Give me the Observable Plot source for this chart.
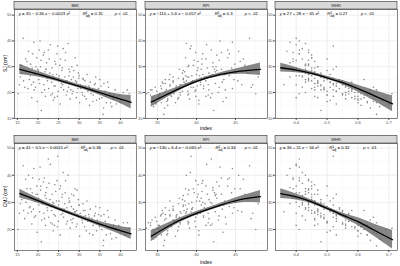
<!DOCTYPE html>
<html><head><meta charset="utf-8">
<script src="https://cdn.jsdelivr.net/npm/d3@7"></script>
<script src="https://cdn.jsdelivr.net/npm/@observablehq/plot@0.6"></script>
<style>
body{margin:0;background:#fff}
#chart{position:relative;width:400px;height:266px;overflow:hidden;background:#fff}
#chart svg{position:absolute}
</style></head>
<body><div id="chart"></div>
<script>
// ---- subjects (same people in every panel) ----
const bmi = [15.2,15.7,15.9,16.4,16.5,17.0,17.1,17.6,17.7,18.1,
 18.2,18.5,18.6,18.9,19.0,19.3,19.4,19.7,19.8,20.1,
 20.2,20.5,20.6,20.9,21.0,21.3,21.4,21.7,21.8,22.1,
 22.2,22.5,22.6,22.9,23.0,23.3,23.4,23.7,23.8,24.1,
 24.2,24.5,24.6,24.9,25.0,25.3,25.4,25.7,25.8,26.1,
 26.2,26.5,26.6,26.9,27.0,27.3,27.4,27.7,27.8,28.1,
 28.2,28.5,28.6,28.9,29.0,29.3,29.4,29.7,29.8,30.1,
 30.3,30.7,30.9,31.3,31.5,31.9,32.1,32.5,32.7,33.1,
 33.4,33.9,34.2,34.7,35.0,35.5,35.8,36.3,36.6,37.1,
 37.4,37.9,38.2,38.7,39.0,39.6,40.0,40.7,41.2,42.1,
 16.8,19.5,21.5,23.5,25.5,27.5,29.5,31.0,34.0,36.0,
 18.4,20.3,22.0,24.0,26.0,28.0,30.0,32.4,24.8,20.8,
 15.5,16.1,17.3,17.9,18.7,19.1,19.9,20.4,20.7,21.1,
 21.6,21.9,22.3,22.7,23.1,23.6,23.9,24.3,24.7,25.1,
 25.6,25.9,26.3,26.7,27.1,27.5,27.9,28.3,28.7,29.1,
 29.5,29.9,30.4,30.8,31.4,31.7,32.3,32.9,33.3,33.7,
 34.4,34.9,35.3,35.9,36.4,36.9,37.6,38.4,39.3,41.7];
const rpi = [47.6,47.9,46.2,46.8,45.3,46.0,45.0,44.6,45.4,44.2,
 44.9,43.8,44.5,43.3,44.6,43.6,42.9,44.0,43.4,42.6,
 43.5,43.0,42.1,42.8,41.8,42.6,41.5,42.4,41.2,42.1,
 41.0,41.9,40.9,41.6,41.3,40.5,41.4,40.3,41.1,40.2,
 40.9,40.0,40.8,39.8,40.6,39.6,40.3,39.4,40.1,39.2,
 39.9,39.0,39.7,38.9,39.5,38.7,39.3,38.5,39.1,38.3,
 38.9,38.2,38.8,37.9,38.6,37.7,38.4,37.5,38.2,37.3,
 38.0,37.0,37.7,36.8,37.4,36.6,37.2,36.3,37.0,36.1,
 36.7,35.7,36.3,35.5,36.0,35.2,35.8,34.9,35.5,34.7,
 35.3,34.5,35.0,34.3,34.8,34.1,34.6,33.8,34.3,33.6,
 47.0,42.5,43.2,42.0,41.2,37.8,39.0,36.5,37.0,36.0,
 45.8,44.0,40.6,41.8,40.5,37.5,38.6,37.8,39.3,42.2,
 47.2,46.6,45.6,44.8,44.2,43.7,43.2,42.4,42.9,42.0,
 41.6,42.3,41.2,40.7,41.5,40.8,40.1,40.7,39.9,40.4,
 39.6,40.2,39.4,39.9,38.9,39.4,38.6,39.0,38.3,38.7,
 37.9,38.3,37.4,37.9,37.0,37.6,36.6,37.1,36.2,36.6,
 35.9,36.3,35.4,35.9,35.1,35.6,34.8,35.2,34.4,34.1];
const whr = [0.41,0.38,0.43,0.40,0.44,0.39,0.42,0.45,0.37,0.41,
 0.44,0.47,0.40,0.43,0.38,0.46,0.42,0.45,0.50,0.39,
 0.44,0.41,0.47,0.43,0.40,0.45,0.48,0.42,0.46,0.38,
 0.44,0.41,0.49,0.43,0.40,0.47,0.45,0.51,0.42,0.46,
 0.48,0.44,0.41,0.50,0.46,0.43,0.53,0.47,0.45,0.42,
 0.52,0.48,0.44,0.55,0.49,0.43,0.51,0.46,0.56,0.50,
 0.47,0.53,0.49,0.55,0.45,0.58,0.51,0.54,0.48,0.60,
 0.52,0.56,0.49,0.59,0.53,0.51,0.57,0.61,0.54,0.58,
 0.56,0.52,0.60,0.57,0.54,0.62,0.66,0.58,0.63,0.56,
 0.61,0.67,0.59,0.64,0.70,0.62,0.65,0.60,0.68,0.71,
 0.46,0.53,0.39,0.55,0.50,0.40,0.44,0.62,0.48,0.53,
 0.36,0.44,0.52,0.40,0.57,0.46,0.42,0.65,0.52,0.48,
 0.40,0.45,0.39,0.43,0.41,0.48,0.43,0.46,0.40,0.44,
 0.49,0.41,0.45,0.42,0.50,0.44,0.47,0.43,0.52,0.45,
 0.49,0.46,0.51,0.44,0.53,0.48,0.46,0.55,0.50,0.47,
 0.56,0.52,0.58,0.50,0.55,0.60,0.53,0.57,0.63,0.55,
 0.59,0.61,0.56,0.64,0.60,0.58,0.66,0.63,0.69,0.66];
const sj = [19.5,26.0,30.5,41.0,24.5,33.0,28.0,21.5,36.0,26.5,
 31.0,18.0,29.5,24.0,39.5,27.0,22.0,33.5,16.5,28.5,
 25.0,40.0,30.0,20.0,26.5,34.5,23.0,28.0,18.5,31.5,
 25.5,36.5,21.5,27.5,38.5,24.0,29.5,17.0,26.0,32.0,
 22.5,27.0,35.0,20.5,25.5,30.5,15.5,23.5,28.5,37.0,
 21.0,26.0,32.5,19.0,24.5,39.0,22.0,28.0,17.5,25.0,
 30.0,20.5,26.0,23.0,33.5,18.0,24.0,21.5,27.5,16.0,
 23.0,20.0,25.5,18.5,22.5,27.0,20.5,15.0,24.0,21.0,
 19.0,23.5,17.0,21.5,25.0,18.0,11.5,20.5,16.0,22.0,
 19.5,14.5,17.5,21.0,15.5,19.0,16.5,20.0,17.0,19.5,
 22.0,30.0,35.5,19.5,33.0,29.0,30.5,25.0,26.0,23.5,
 23.0,36.5,29.0,18.0,23.0,21.0,26.5,22.0,38.0,13.0,
 23.0,27.5,32.0,25.0,35.0,21.0,29.0,23.5,32.5,27.0,
 21.0,29.0,24.5,33.0,19.0,27.0,22.5,31.0,18.5,26.5,
 22.0,29.5,24.0,35.5,20.5,26.5,23.5,19.5,28.5,24.5,
 20.0,25.5,21.5,19.0,24.5,17.5,22.5,19.5,16.5,23.0,
 20.0,17.5,22.5,14.0,18.5,24.0,16.0,19.0,18.0,21.0];
const cmj = [20.0,29.5,33.0,43.5,27.0,38.5,30.0,26.0,40.0,28.5,
 35.0,22.0,33.5,27.5,42.5,30.5,25.0,36.0,19.0,31.5,
 29.0,43.0,34.5,23.5,30.0,37.5,26.0,32.5,21.5,35.5,
 28.0,46.0,24.5,31.0,44.0,27.0,33.0,19.5,29.5,36.5,
 25.0,30.5,38.0,23.0,29.0,35.0,18.0,27.5,32.0,41.0,
 24.5,29.5,33.5,22.0,28.0,40.0,26.5,30.5,20.5,28.5,
 33.0,24.0,27.5,26.5,35.0,21.0,27.0,25.5,31.0,17.5,
 26.0,23.5,29.5,21.0,25.0,30.5,23.0,18.5,27.5,24.0,
 21.5,26.0,19.5,25.5,28.0,20.0,14.0,23.0,18.0,24.5,
 21.0,16.5,20.5,23.5,17.0,21.5,19.0,22.5,18.0,20.5,
 24.0,33.0,39.0,22.0,36.0,31.5,34.5,27.0,28.5,25.5,
 26.5,38.5,31.5,21.5,26.0,23.5,29.0,24.5,47.0,15.5,
 26.0,31.0,35.0,28.0,39.0,24.5,33.0,26.5,36.0,29.5,
 24.0,33.5,27.0,37.0,22.5,30.0,25.5,34.0,21.0,30.5,
 25.5,33.0,27.5,38.0,23.0,30.0,26.0,22.5,32.5,26.5,
 22.0,29.0,24.5,22.5,27.0,19.5,25.5,23.0,18.0,25.0,
 23.5,21.0,25.0,16.0,21.5,27.0,18.5,21.5,20.0,22.5];

// ---- fitted quadratic curves and 95% bands ----
const bmiGrid = [15.6,20,25,30,35,40,42.6];
const sjBmiFit = [29.0,27.1,24.8,22.4,19.9,17.4,16.2];
const sjBmiHalf = [2.0,1.1,0.7,0.7,1.0,1.8,2.6];
const cmjBmiFit = [33.2,30.6,27.6,24.7,22.0,19.6,18.4];
const cmjBmiHalf = [1.6,0.9,0.6,0.6,0.9,1.5,2.1];

const rpiGrid = [34.2,37.1,40.1,43.1,45.6,48.2];
const sjRpiFit = [16.3,20.5,24.4,27.0,28.3,29.0];
const sjRpiHalf = [2.0,1.0,0.6,0.7,1.2,2.4];
const cmjRpiFit = [17.5,22.3,26.0,29.0,31.0,32.1];
const cmjRpiHalf = [2.0,1.0,0.7,0.7,1.2,2.3];

const whrGrid = [0.35,0.4,0.45,0.5,0.55,0.6,0.65,0.712];
const sjWhrFit = [29.6,28.7,27.4,25.7,23.8,21.5,18.9,15.6];
const sjWhrHalf = [1.7,1.0,0.6,0.6,0.8,1.3,2.0,3.1];
const cmjWhrFit = [33.2,32.0,30.2,27.8,25.3,22.9,19.9,16.2];
const cmjWhrHalf = [1.8,1.1,0.7,0.6,0.8,1.4,2.2,3.4];

// ---- labels ----
const indexNames = ["BMI","RPI","WHR"];
const eqSJ = ["y = 35 − 0.36 x − 0.0023 x²","y = −110 + 5.6 x − 0.057 x²","y = 27 + 28 x − 65 x²"];
const eqCMJ = ["y = 41 − 0.5 x − 0.0015 x²","y = −130 + 6.4 x − 0.065 x²","y = 36 + 11 x − 56 x²"];
const r2SJ = ["0.31","0.3","0.27"];
const r2CMJ = ["0.36","0.34","0.32"];
const pText = "< .01";
const bmiTicks = [15,20,25,30,35,40];
const rpiTicks = [35,40,45];
const whrTicks = [0.4,0.5,0.6,0.7];
const sjTicks = [10,20,30,40,50];
const cmjTicks = [20,30,40,50];

const FONT = '"Liberation Sans", Arial, Helvetica, sans-serif';
const chart = document.getElementById("chart");
const idx = d3.range(bmi.length);
const mids = t => d3.range(t.length + 1).map(i => i === 0 ? t[0] - (t[1]-t[0])/2 : i === t.length ? t[t.length-1] + (t[1]-t[0])/2 : (t[i-1]+t[i])/2);

const columns = [
  {x: bmi, domain:[14.3,43.9], ticks:bmiTicks, fmt:d3.format("d"), grid:bmiGrid, left:2},
  {x: rpi, domain:[33.46,49.1], ticks:rpiTicks, fmt:d3.format("d"), grid:rpiGrid, left:133},
  {x: whr, domain:[0.333,0.728], ticks:whrTicks, fmt:d3.format(".1f"), grid:whrGrid, left:263}
];
const rows = [
  {y: sj, domain:[9.9,52.2], ticks:sjTicks, top:1, panelH:109,
   fits:[sjBmiFit,sjRpiFit,sjWhrFit], halves:[sjBmiHalf,sjRpiHalf,sjWhrHalf], eqs:eqSJ, r2:r2SJ,
   rOff:[68.7,69.7,52.3], pOff:[100.7,99.7,86]},
  {y: cmj, domain:[12.25,51.7], ticks:cmjTicks, top:135, panelH:107,
   fits:[cmjBmiFit,cmjRpiFit,cmjWhrFit], halves:[cmjBmiHalf,cmjRpiHalf,cmjWhrHalf], eqs:eqCMJ, r2:r2CMJ,
   rOff:[66.7,70.4,54.3], pOff:[96.7,99.7,88.3]}
];

const ML = 12, MT = 8, MB = 10, PW = 122;

rows.forEach((row, ri) => {
  columns.forEach((col, ci) => {
    const fit = row.fits[ci], half = row.halves[ci], g = col.grid;
    const gi = d3.range(g.length);
    const inRange = (v, d) => v > d[0] && v < d[1];
    const minorX = mids(col.ticks).filter(v => inRange(v, col.domain));
    const minorY = mids(row.ticks).filter(v => inRange(v, row.domain));
    const svg = Plot.plot({
      width: ML + PW, height: MT + row.panelH + MB,
      marginLeft: ML, marginRight: 0, marginTop: MT, marginBottom: MB,
      style: {fontFamily: FONT, fontSize: "4px", color: "#4d4d4d", background: "transparent", overflow: "visible"},
      x: {domain: col.domain, ticks: col.ticks, tickFormat: col.fmt, tickSize: 2, tickPadding: 1, label: null},
      y: {domain: row.domain, ticks: row.ticks, tickSize: 2, tickPadding: 1, label: null},
      marks: [
        Plot.ruleX(minorX, {stroke: "#f0f0f0", strokeWidth: 0.4}),
        Plot.ruleY(minorY, {stroke: "#f0f0f0", strokeWidth: 0.4}),
        Plot.ruleX(col.ticks, {stroke: "#e6e6e6", strokeWidth: 0.7}),
        Plot.ruleY(row.ticks.filter(v => inRange(v, row.domain)), {stroke: "#e6e6e6", strokeWidth: 0.7}),
        Plot.dot(idx, {x: i => col.x[i], y: i => row.y[i], r: 0.8, fill: "#8a8a8a"}),
        Plot.areaY(gi, {x: i => g[i], y1: i => fit[i] - half[i], y2: i => fit[i] + half[i], fill: "#5e5e5e", fillOpacity: 0.75, curve: "natural"}),
        Plot.lineY(gi, {x: i => g[i], y: i => fit[i], stroke: "#000", strokeWidth: 1.3, curve: "natural"}),
        Plot.frame({stroke: "#333", strokeWidth: 0.6})
      ]
    });
    svg.style.left = col.left + "px";
    svg.style.top = row.top + "px";
    const s = d3.select(svg);
    // strip
    s.append("rect").attr("x", ML).attr("y", 0.3).attr("width", PW).attr("height", MT - 0.3)
      .attr("fill", "#d9d9d9").attr("stroke", "#333").attr("stroke-width", 0.6);
    s.append("text").attr("x", ML + PW / 2).attr("y", MT / 2 + 0.3).attr("dy", "0.35em")
      .attr("text-anchor", "middle").attr("font-size", 4).attr("fill", "#1a1a1a")
      .attr("font-family", FONT).text(indexNames[ci]);
    // equation label
    const t = s.append("text").attr("x", ML + 4.7).attr("y", MT + 6.3)
      .attr("text-anchor", "start")
      .attr("font-size", 4.3).attr("fill", "#000").attr("font-family", FONT);
    row.eqs[ci].split(/(x|y)/).forEach(part => {
      if (!part) return;
      const sp = t.append("tspan").text(part);
      if (part === "x" || part === "y") sp.attr("font-style", "italic");
    });
    t.append("tspan").attr("x", ML + row.rOff[ci]).attr("font-style", "italic").text("R");
    t.append("tspan").text("²");
    t.append("tspan").attr("font-size", 3).attr("dx", -1.6).attr("dy", 1.4).text("adj");
    t.append("tspan").attr("dy", -1.4).text(" = " + row.r2[ci]);
    t.append("tspan").attr("x", ML + row.pOff[ci]).attr("font-style", "italic").text("p");
    t.append("tspan").text(" " + pText);
    chart.appendChild(svg);
  });
});

// axis titles
const ov = d3.create("svg").attr("width", 400).attr("height", 266)
  .style("left", "0px").style("top", "0px").style("pointer-events", "none");
const yTitles = [["SJ (cm)", 63.5], ["CMJ (cm)", 196.5]];
yTitles.forEach(([txt, cy]) => {
  ov.append("text").attr("transform", `translate(6.5,${cy}) rotate(-90)`)
    .attr("text-anchor", "middle").attr("font-size", 5).attr("font-family", FONT).attr("fill", "#000").text(txt);
});
[129.8, 263.5].forEach(y => {
  ov.append("text").attr("x", 206).attr("y", y).attr("text-anchor", "middle")
    .attr("font-size", 5).attr("font-family", FONT).attr("fill", "#000").text("index");
});
chart.appendChild(ov.node());
</script>
</body></html>
